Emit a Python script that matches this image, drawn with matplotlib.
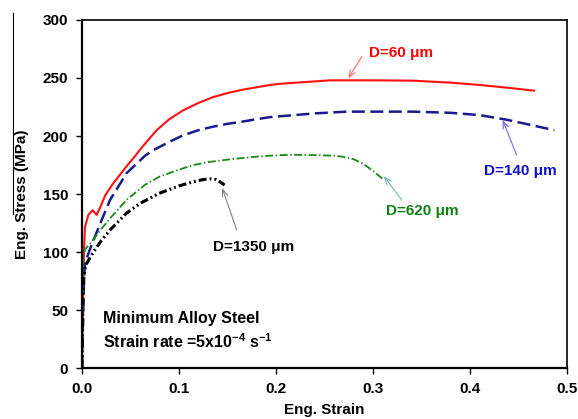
import matplotlib
matplotlib.use("Agg")
import matplotlib.pyplot as plt
from matplotlib.lines import Line2D

plt.rcParams['font.family'] = ['Liberation Sans', 'DejaVu Sans']
plt.rcParams['font.weight'] = 'bold'
plt.rcParams['mathtext.fontset'] = 'custom'
plt.rcParams['mathtext.rm'] = 'Liberation Sans:bold'
plt.rcParams['mathtext.bf'] = 'Liberation Sans:bold'
plt.rcParams['mathtext.default'] = 'bf'

# ---- data ----
d60_strain = [0, 0.001, 0.002, 0.003, 0.0065, 0.011, 0.015, 0.019, 0.024, 0.032, 0.047,
              0.055, 0.0615, 0.077, 0.09, 0.104, 0.12, 0.135, 0.15, 0.166, 0.18, 0.194,
              0.204, 0.23, 0.256, 0.3, 0.341, 0.38, 0.41, 0.44, 0.467]
d60_stress = [0, 50, 100, 121, 132, 136, 132, 139, 149, 159, 175,
              183, 190, 205, 214.5, 222, 228.5, 233.5, 237, 240, 242, 244,
              245, 246.5, 248, 248, 247.7, 246, 244, 241.5, 239]

d140_strain = [0, 0.001, 0.002, 0.003, 0.008, 0.019, 0.029, 0.046, 0.065, 0.073, 0.09,
               0.104, 0.12, 0.135, 0.15, 0.166, 0.18, 0.194, 0.204, 0.24, 0.273, 0.31,
               0.341, 0.38, 0.41, 0.438, 0.46, 0.487]
d140_stress = [0, 40, 75, 90, 102, 125, 145, 168, 183, 187.5, 195,
               200.5, 205, 208, 210.5, 212.5, 214.5, 216.3, 217, 219.5, 221, 221,
               221, 220, 218, 214, 210, 205]

d620_strain = [0, 0.0005, 0.001, 0.003, 0.011, 0.02, 0.03, 0.046, 0.065, 0.08, 0.1,
               0.115, 0.13, 0.149, 0.165, 0.184, 0.204, 0.22, 0.24, 0.26, 0.27, 0.28,
               0.29, 0.3, 0.31]
d620_stress = [0, 50, 90, 102, 110, 120, 130, 145, 158, 165, 171,
               175, 177.5, 179.5, 181, 182.5, 183.5, 183.8, 183.5, 183, 182, 180,
               176, 170, 163]

d1350_strain = [0, 0.0005, 0.001, 0.002, 0.004, 0.011, 0.02, 0.029, 0.046, 0.06, 0.08,
                0.1, 0.115, 0.125, 0.132, 0.138, 0.142, 0.147]
d1350_stress = [0, 30, 60, 80, 89, 99, 110, 119, 133.6, 142, 150.7,
                157, 160.6, 162.5, 163, 162.5, 160.6, 157.7]

labels = ["D=60 \u03bcm", "D=140 \u03bcm", "D=620 \u03bcm", "D=1350 \u03bcm"]
x_ticks = [0.0, 0.1, 0.2, 0.3, 0.4, 0.5]
y_ticks = [0, 50, 100, 150, 200, 250, 300]

# ---- figure ----
fig = plt.figure(figsize=(5.78, 4.19), dpi=100)
ax = fig.add_axes([82 / 578, 1 - 368 / 419, (567 - 82) / 578, (368 - 20) / 419])

ax.plot(d60_strain, d60_stress, color='#ff1010', lw=1.5, solid_capstyle='butt')
ax.plot(d140_strain, d140_stress, color='#1a1a8c', lw=1.8, dashes=(5.2, 2.2))
ax.plot(d620_strain, d620_stress, color='#168a16', lw=1.3,
        dashes=(4.4, 1.4, 0.8, 1.4))
ax.plot(d1350_strain, d1350_stress, color='black', lw=2.2,
        dashes=(2.6, 1.0, 0.6, 1.0, 0.6, 1.0))

ax.set_xlim(0, 0.5)
ax.set_ylim(0, 300)
ax.set_xticks(x_ticks)
ax.set_xticklabels([f"{v:.1f}" for v in x_ticks])
ax.set_yticks(y_ticks)
ax.set_yticklabels([str(v) for v in y_ticks])
ax.tick_params(direction='out', length=4, width=1.0, labelsize=11, pad=6)
for lab in ax.get_xticklabels() + ax.get_yticklabels():
    lab.set_fontweight('bold')
for side in ['left', 'bottom']:
    ax.spines[side].set_linewidth(1.6)
for side in ['top', 'right']:
    ax.spines[side].set_linewidth(1.2)

ax.set_xlabel("Eng. Strain", fontsize=11, fontweight='bold', labelpad=5)
ax.set_ylabel("Eng. Stress (MPa)", fontsize=11, fontweight='bold', labelpad=10)

# annotations: (label, text pos, arrow tail, arrow tip, text color, arrow color)
ann = [
    (labels[0], (0.3289, 271.5), (0.2884, 268.4), (0.2745, 249.7), '#ff0000', '#ff6a6a'),
    (labels[1], (0.4515, 169.8), (0.448, 183.6), (0.4337, 213.8), '#1010c8', '#6a6aff'),
    (labels[2], (0.351, 135.3), (0.3296, 144.8), (0.3113, 165.5), '#108010', '#70b8a8'),
    (labels[3], (0.1773, 104.3), (0.1595, 119.0), (0.1446, 155.0), '#000000', '#808080'),
]
for text, tpos, tail, tip, tc, ac in ann:
    ax.text(tpos[0], tpos[1], text, color=tc, fontsize=11, fontweight='bold',
            ha='center', va='center')
    ax.annotate('', xy=tip, xytext=tail,
                arrowprops=dict(arrowstyle='->,head_length=0.5,head_width=0.2',
                                color=ac, lw=0.8, shrinkA=0, shrinkB=0))

ax.text(0.0216, 43.1, "Minimum Alloy Steel", fontsize=11.5, fontweight='bold',
        ha='left', va='center')
ax.text(0.0216, 22.4, r"Strain rate =5x10$^{-4}$ s$^{-1}$", fontsize=11.5,
        fontweight='bold', ha='left', va='center')

# thin vertical line at the left edge of the reference image
fig.add_artist(Line2D([13 / 578, 13 / 578], [1 - 13 / 419, 1 - 214 / 419],
                      transform=fig.transFigure, color='black', lw=0.8))

fig.savefig("out.png", dpi=100)
